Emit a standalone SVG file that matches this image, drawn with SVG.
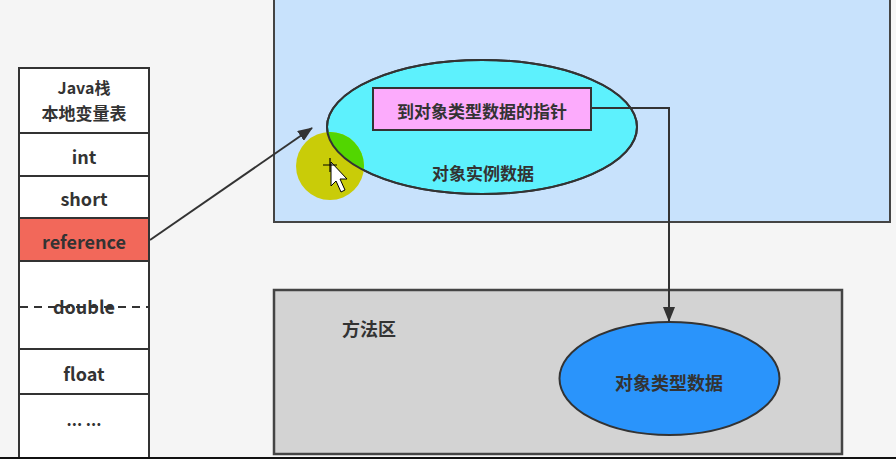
<svg xmlns="http://www.w3.org/2000/svg" width="896" height="459" viewBox="0 0 896 459">
<style>
text{font-family:"Noto Sans CJK SC","Noto Sans",sans-serif;font-weight:bold;fill:#333;text-anchor:middle;dominant-baseline:central}
.cell{fill:#ffffff;stroke:#333;stroke-width:2}
.conn{fill:none;stroke:#333;stroke-width:2}
</style>
<defs>
<marker id="ah" markerWidth="15" markerHeight="12" refX="14" refY="6" orient="auto" markerUnits="userSpaceOnUse">
<path d="M0,0 L15,6 L0,12 Z" fill="#333"/>
</marker>
<clipPath id="cyanClip"><ellipse cx="482" cy="127" rx="155" ry="67"/></clipPath>
</defs>
<rect x="0" y="0" width="896" height="459" fill="#f5f5f5"/>

<g id="heap">
<rect x="274" y="-5" width="616" height="227" fill="#c8e2fc" stroke="#444" stroke-width="2"/>
</g>
<g id="method-area">
<rect x="274" y="290" width="568" height="164" fill="#d3d3d3" stroke="#444" stroke-width="2.5"/>
<text x="369" y="328" font-size="18">方法区</text>
</g>

<g id="stack">
<rect class="cell" x="19" y="68" width="130" height="65"/>
<text x="84" y="87" font-size="16">Java栈</text>
<text x="84" y="112" font-size="17">本地变量表</text>
<rect class="cell" x="19" y="133" width="130" height="43"/>
<text x="84" y="156" font-size="18">int</text>
<rect class="cell" x="19" y="176" width="130" height="42"/>
<text x="84" y="198" font-size="18">short</text>
<rect x="19" y="218" width="130" height="43" fill="#f2685a" stroke="#333" stroke-width="2"/>
<text x="84" y="241" font-size="18">reference</text>
<rect class="cell" x="19" y="261" width="130" height="88"/>
<text x="84" y="306" font-size="18">double</text>
<line x1="20" y1="307" x2="148" y2="307" stroke="#333" stroke-width="2" stroke-dasharray="8 6"/>
<rect class="cell" x="19" y="349" width="130" height="45"/>
<text x="84" y="373" font-size="18">float</text>
<rect class="cell" x="19" y="394" width="130" height="66"/>
<text x="84" y="419" font-size="16">... ...</text>
</g>

<g id="instance-data">
<ellipse cx="482" cy="127" rx="155" ry="67" fill="#5df1fd" stroke="#333" stroke-width="2"/>
<text x="483" y="172" font-size="17">对象实例数据</text>
</g>
<g id="pointer">
<rect x="373" y="88" width="218" height="42" fill="#fcabfc" stroke="#333" stroke-width="2"/>
<text x="482" y="110" font-size="17">到对象类型数据的指针</text>
</g>
<g id="type-data">
<ellipse cx="669.5" cy="378.5" rx="110" ry="56.5" fill="#2a94fb" stroke="#333" stroke-width="2"/>
<text x="669" y="382" font-size="18">对象类型数据</text>
</g>

<g id="connectors">
<path class="conn" d="M150,240 L312,128" marker-end="url(#ah)"/>
<path class="conn" d="M591,108 L669,108 L669,321" marker-end="url(#ah)"/>
</g>

<g id="cursor-highlight">
<circle cx="330" cy="166" r="34" fill="#c9cc08"/>
<circle cx="330" cy="166" r="34" fill="#52d600" clip-path="url(#cyanClip)"/>
<path d="M331,162 L331,186 L336,181 L341,192 L345,190 L340,179 L347,179 Z" fill="#fff" stroke="#000" stroke-width="1"/>
<path d="M330,158 v14 M323,165 h14" stroke="#000" stroke-width="1.2"/>
</g>
<ellipse cx="482" cy="127" rx="155" ry="67" fill="none" stroke="#333" stroke-width="2"/>

<rect x="0" y="457" width="896" height="2" fill="#111"/>
</svg>
